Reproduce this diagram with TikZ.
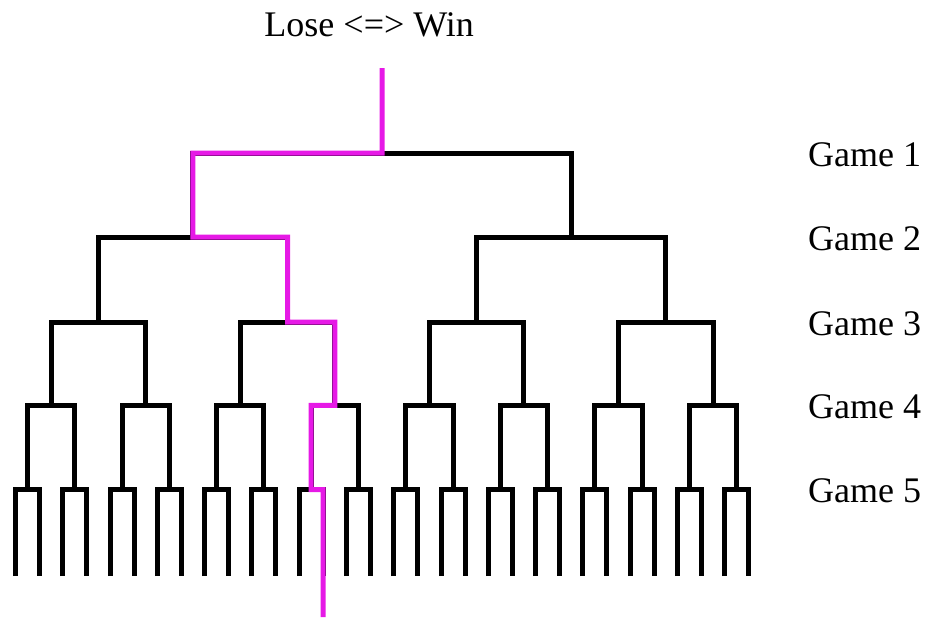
\documentclass[tikz,border=0pt]{standalone}
\usepackage{fontspec}
\setmainfont{Liberation Serif}
\usetikzlibrary{calc}
\definecolor{winpath}{RGB}{230,25,230}
\tikzset{
  bracket/.style={line width=5pt, line join=miter, line cap=butt, black},
  route/.style={line width=5pt, line join=miter, line cap=butt, winpath},
  label/.style={font=\fontsize{36}{40}\selectfont, inner sep=0pt},
}
\begin{document}
\begin{tikzpicture}[x=1pt, y=-1pt]
\useasboundingbox (0,0) rectangle (936,618);

% pair spacing and position of the first pair
\def\pitch{47.28}
\def\first{27.5}

% bracket junctions: level d, index i
\foreach \d/\y in {1/153, 2/237, 3/322, 4/405.3, 5/489.5} {
  \pgfmathtruncatemacro\last{2^(\d-1)-1}
  \pgfmathsetmacro\span{2^(5-\d)}
  \foreach \i in {0,...,\last} {
    \pgfmathsetmacro\xx{\first + \pitch*(\i*\span + (\span-1)/2)}
    \coordinate (n-\d-\i) at (\xx,\y);
  }
}

% bottom ends of the 32 leaves
\foreach \k in {0,...,31} {
  \pgfmathsetmacro\xx{\first + \pitch*floor(\k/2) + (mod(\k,2)==0 ? -12 : 12)}
  \coordinate (leaf-\k) at (\xx,576);
}

\coordinate (top) at (382.1,68);
\coordinate (bottom) at ($(leaf-13)+(0,41)$);

% brackets for games 1 to 4
\foreach \d in {1,...,4} {
  \pgfmathtruncatemacro\last{2^(\d-1)-1}
  \pgfmathtruncatemacro\nd{\d+1}
  \foreach \i in {0,...,\last} {
    \pgfmathtruncatemacro\a{2*\i}
    \pgfmathtruncatemacro\b{2*\i+1}
    \draw[bracket] (n-\nd-\a) |- (n-\d-\i) -| (n-\nd-\b);
  }
}
% brackets for game 5
\foreach \i in {0,...,15} {
  \pgfmathtruncatemacro\a{2*\i}
  \pgfmathtruncatemacro\b{2*\i+1}
  \draw[bracket] (leaf-\a) |- (n-5-\i) -| (leaf-\b);
}

% highlighted route through the games
\draw[route] (top) -- (n-1-0) -| (n-2-0) -| (n-3-1) -| (n-4-3) -| (n-5-6) -| (bottom);

% labels
\node[label, anchor=base] (title) at (369.2,37) {Lose <=> Win};
\foreach \d/\y in {1/166, 2/250.2, 3/335.2, 4/418.5, 5/502.8} {
  \node[label, anchor=base west] (game-\d) at (808,\y) {Game \d};
}
\end{tikzpicture}
\end{document}
